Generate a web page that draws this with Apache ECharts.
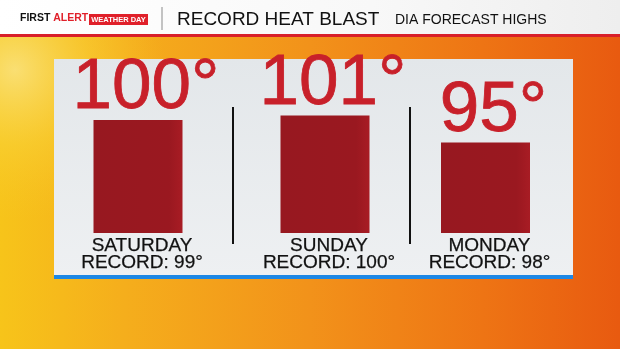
<!DOCTYPE html>
<html>
<head>
<meta charset="utf-8">
<script src="https://cdn.jsdelivr.net/npm/echarts@6/dist/echarts.min.js"></script>
<style>
html,body{margin:0;padding:0;background:#f39a1c;}
#c{width:620px;height:349px;}
</style>
</head>
<body>
<div id="c"></div>
<script>
const days = ['SATURDAY', 'SUNDAY', 'MONDAY'];
const highs = [100, 101, 95];
const records = [99, 100, 98];
const title = 'RECORD HEAT BLAST';
const subtitle = 'DIA FORECAST HIGHS';

const FONT = '"Liberation Sans", Arial, sans-serif';
const chart = echarts.init(document.getElementById('c'), null, {renderer: 'canvas'});

const gridLefts = [54, 241, 401.5];
const grids = [], xAxes = [], yAxes = [], series = [];
days.forEach((d, i) => {
  grids.push({left: gridLefts[i], width: 168, top: 59, bottom: 116});
  xAxes.push({
    type: 'category', gridIndex: i, data: [d],
    axisLine: {show: false}, axisTick: {show: false},
    axisLabel: {
      margin: 4, fontFamily: FONT, fontSize: 19, lineHeight: 17, color: '#111',
      textBorderColor: '#111', textBorderWidth: 0.25,
      padding: [0, 0, 0, 8],
      formatter: v => v + '\nRECORD: ' + records[i] + '°'
    }
  });
  yAxes.push({type: 'value', gridIndex: i, min: 75, max: 113.5, show: false, splitLine: {show: false}});
  series.push({
    type: 'bar', xAxisIndex: i, yAxisIndex: i, data: [highs[i]], barWidth: 89,
    itemStyle: {
      color: {type: 'linear', x: 0, y: 0, x2: 1, y2: 0, colorStops: [
        {offset: 0, color: '#971820'}, {offset: 0.85, color: '#9a1820'}, {offset: 1, color: '#a81c24'}]}
    },
    label: {
      show: true, position: 'top', distance: -4, offset: [8, 0],
      formatter: p => p.value + '°', fontFamily: FONT, fontSize: 71, color: '#c8202a',
      textBorderColor: '#c8202a', textBorderWidth: 0.8
    }
  });
});

chart.setOption({
  animation: false,
  grid: grids, xAxis: xAxes, yAxis: yAxes, series: series,
  graphic: [
    {type: 'rect', z: -30, silent: true, shape: {x: 0, y: 0, width: 620, height: 349},
     style: {fill: {type: 'linear', x: 0, y: 0, x2: 1, y2: 0, colorStops: [
       {offset: 0, color: '#f7c41a'}, {offset: 0.2, color: '#f5ae1c'}, {offset: 0.5, color: '#f2921a'},
       {offset: 0.78, color: '#ee7414'}, {offset: 1, color: '#e85a10'}]}}},
    {type: 'rect', z: -29, silent: true, shape: {x: 0, y: 0, width: 620, height: 349},
     style: {fill: {type: 'radial', global: true, x: 15, y: 70, r: 150, colorStops: [
       {offset: 0, color: 'rgba(250,228,130,0.85)'}, {offset: 0.5, color: 'rgba(249,212,60,0.5)'},
       {offset: 1, color: 'rgba(248,200,40,0)'}]}}},
    {type: 'rect', z: -28, silent: true, shape: {x: 0, y: 0, width: 620, height: 34},
     style: {fill: {type: 'linear', x: 0, y: 0, x2: 1, y2: 0, colorStops: [
       {offset: 0, color: '#ffffff'}, {offset: 0.6, color: '#f8f8f8'}, {offset: 1, color: '#eeeeee'}]}}},
    {type: 'rect', z: -27, silent: true, shape: {x: 0, y: 34, width: 620, height: 3}, style: {fill: '#d81f2a'}},
    {type: 'rect', z: -26, silent: true, shape: {x: 54, y: 59, width: 519, height: 217},
     style: {fill: {type: 'linear', x: 0, y: 0, x2: 0, y2: 1, colorStops: [
       {offset: 0, color: '#e3e7ea'}, {offset: 1, color: '#eef0f2'}]}}},
    {type: 'rect', z: -25, silent: true, shape: {x: 54, y: 275, width: 519, height: 4}, style: {fill: '#1e88e5'}},
    {type: 'line', z: 5, silent: true, shape: {x1: 233, y1: 107, x2: 233, y2: 244}, style: {stroke: '#111', lineWidth: 2}},
    {type: 'line', z: 5, silent: true, shape: {x1: 410, y1: 107, x2: 410, y2: 244}, style: {stroke: '#111', lineWidth: 2}},
    {type: 'line', z: 5, silent: true, shape: {x1: 162, y1: 7, x2: 162, y2: 30}, style: {stroke: '#b0b0b0', lineWidth: 1.5}},
    {type: 'text', z: 5, silent: true, left: 20, top: 13,
     style: {text: '{a|FIRST }{b|ALERT}', rich: {
       a: {fontFamily: FONT, fontWeight: 'bold', fontSize: 10.5, fill: '#111'},
       b: {fontFamily: FONT, fontWeight: 'bold', fontSize: 10.5, fill: '#e0202a'}}}},
    {type: 'rect', z: 5, silent: true, shape: {x: 89, y: 14, width: 59, height: 11}, style: {fill: '#e0202a'}},
    {type: 'text', z: 6, silent: true, x: 118.5, y: 19.5,
     style: {text: 'WEATHER DAY', fontFamily: FONT, fontWeight: 'bold', fontSize: 7.5, fill: '#fff', align: 'center', verticalAlign: 'middle'}},
    {type: 'text', z: 5, silent: true, x: 177, y: 19.5,
     style: {text: title, fontFamily: FONT, fontSize: 19, fill: '#111', verticalAlign: 'middle'}},
    {type: 'text', z: 5, silent: true, x: 395, y: 20.5,
     style: {text: subtitle, fontFamily: FONT, fontSize: 14, fill: '#111', verticalAlign: 'middle'}}
  ]
});
</script>
</body>
</html>
